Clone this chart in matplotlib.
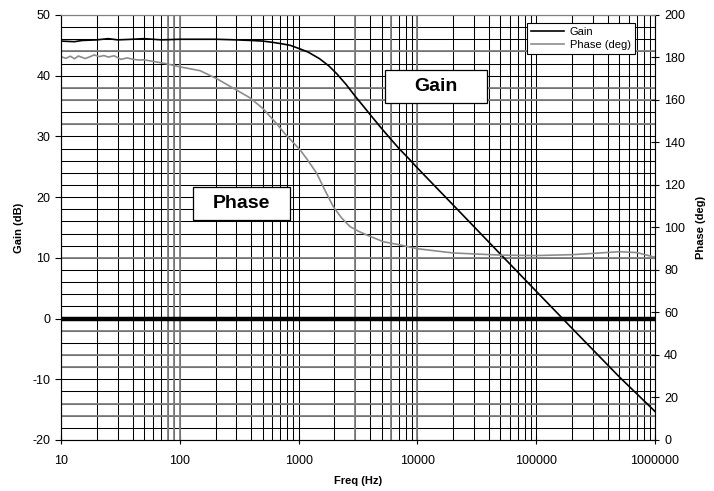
import matplotlib
matplotlib.use("Agg")
import matplotlib.pyplot as plt
from matplotlib.patches import Rectangle
from matplotlib.ticker import LogLocator, MultipleLocator, FixedLocator, NullFormatter

plt.rcParams['font.family'] = ['Liberation Sans', 'DejaVu Sans']
plt.rcParams['axes.unicode_minus'] = False

# gain curve (Hz, dB)
gain_freq = [10, 13, 15, 20, 25, 30, 40, 50, 70, 100, 150, 200, 300, 400, 500, 600, 700, 850,
             1000, 1200, 1500, 1800, 2100, 2500, 3000, 3500, 4000, 5000, 6000, 7000, 8500,
             10000, 20000, 50000, 100000, 200000, 500000, 1000000]
gain_db = [45.7, 45.6, 45.8, 45.9, 46.1, 45.9, 46.0, 46.1, 45.9, 46.0, 46.0, 46.0, 45.9, 45.8,
           45.7, 45.5, 45.3, 45.0,
           44.5, 43.9, 42.8, 41.6, 40.3, 38.6, 36.6, 35.0, 33.6, 31.3, 29.5, 28.0, 26.3,
           24.8, 18.7, 10.6, 4.5, -1.6, -9.6, -15.3]

# phase curve (Hz, deg)
phase_freq = [10, 11, 12, 13, 14, 16, 18, 19, 21, 23, 25, 28, 32, 36, 40, 45, 50, 62, 75,
              100, 148, 205, 283, 390, 500, 650, 770, 900, 1030, 1200, 1420, 1650, 1960,
              2300, 2710, 3200, 3740, 5160, 7130, 10000, 20000, 50000, 100000, 200000,
              300000, 500000, 700000, 1000000]
phase_deg = [180.4, 179.6, 180.6, 179.4, 180.7, 179.5, 180.6, 181.2, 180.4, 180.9, 180.2, 180.8,
             179.1, 179.8, 179.2, 178.8, 178.9, 178.0, 177.2,
             175.6, 173.8, 170.0, 165.5, 161.0, 156.0, 149.0, 144.0, 140.0, 136.5, 131.5,
             125.5, 118.0, 109.8, 104.5, 100.4, 98.2, 96.5, 93.3, 91.8, 90.0, 88.0, 87.0,
             86.8, 87.2, 87.8, 88.6, 88.2, 86.0]

# gridlines that render grey in the original
grey_h = [44, 38, 36, 32, 10, -2, -6, -8, -14, -16]
grey_v = [80, 90, 100, 3000, 6000, 10000]

x_ticks = [10, 100, 1000, 10000, 100000, 1000000]
x_labels = ["10", "100", "1000", "10000", "100000", "1000000"]

fig = plt.figure(figsize=(7.14, 4.91), dpi=100)
ax = fig.add_axes([0.0854, 0.1039, 0.8320, 0.8656])
ax2 = ax.twinx()

ax.set_xscale("log")
ax.set_xlim(10, 1000000)
ax.set_ylim(-20, 50)
ax2.set_ylim(0, 200)

ax.xaxis.set_major_locator(FixedLocator(x_ticks))
ax.set_xticklabels(x_labels)
ax.xaxis.set_minor_locator(LogLocator(base=10, subs=range(2, 10), numticks=20))
ax.xaxis.set_minor_formatter(NullFormatter())
ax.yaxis.set_major_locator(MultipleLocator(10))
ax.yaxis.set_minor_locator(MultipleLocator(2))
ax2.yaxis.set_major_locator(MultipleLocator(20))

ax.grid(True, which="both", color="black", linewidth=0.75)
for v in grey_h:
    ax.axhline(v, color="#808080", linewidth=1.3, zorder=1)
for v in grey_v:
    ax.axvline(v, color="#808080", linewidth=1.3, zorder=1)
ax.set_axisbelow(True)

ax.tick_params(which="minor", length=0)
ax.tick_params(which="major", labelsize=9, length=4, width=0.8, color="black")
ax2.tick_params(which="major", labelsize=9, length=6, width=0.8, direction="inout")
ax.tick_params(axis="x", direction="inout", length=6, pad=8)

# 0 dB reference
ax.axhline(0, color="black", linewidth=3.2, zorder=3)

l1, = ax.plot(gain_freq, gain_db, color="black", linewidth=1.2, label="Gain", zorder=4)
l2, = ax2.plot(phase_freq, phase_deg, color="#8c8c8c", linewidth=1.2, label="Phase (deg)")

ax.set_xlabel("Freq (Hz)", fontsize=8, fontweight="bold", labelpad=6)
ax.set_ylabel("Gain (dB)", fontsize=8, fontweight="bold", labelpad=6)
ax2.set_ylabel("Phase (deg)", fontsize=8, fontweight="bold", labelpad=8)

for sp in ax.spines.values():
    sp.set_color("#808080")
ax2.spines["left"].set_color("black")
ax2.spines["bottom"].set_color("black")
ax2.spines["right"].set_color("black")
ax2.spines["top"].set_color("#808080")

leg = ax2.legend(handles=[l1, l2], loc="upper right", bbox_to_anchor=(0.966, 0.981),
                 fontsize=8, frameon=True, fancybox=False, edgecolor="black",
                 framealpha=1, borderpad=0.35, handlelength=3.0, labelspacing=0.3,
                 handletextpad=0.5, borderaxespad=0)
leg.get_frame().set_linewidth(0.8)

# label boxes
for cx, cy, w, h, txt in [(0.631, 0.832, 0.172, 0.078, "Gain"),
                          (0.304, 0.556, 0.163, 0.078, "Phase")]:
    ax2.add_patch(Rectangle((cx - w / 2, cy - h / 2), w, h, transform=ax2.transAxes,
                            facecolor="white", edgecolor="black", linewidth=0.9, zorder=5))
    ax2.text(cx, cy, txt, transform=ax2.transAxes, ha="center", va="center",
             fontsize=14, fontweight="bold", zorder=6)

fig.savefig("out.png", dpi=100)
